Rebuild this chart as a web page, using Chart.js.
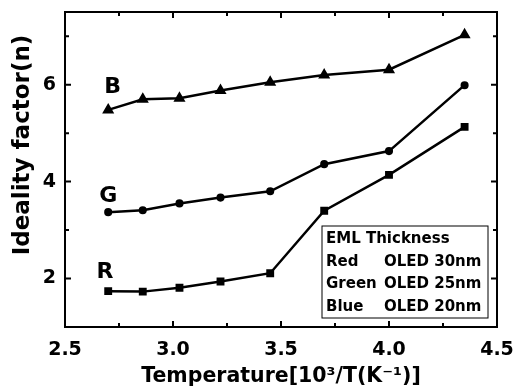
<!DOCTYPE html>
<html>
<head>
<meta charset="utf-8">
<script src="https://cdn.jsdelivr.net/npm/chart.js@4.4.1/dist/chart.umd.min.js"></script>
<style>
  html, body { margin: 0; padding: 0; background: #fff; }
  #wrap { width: 513px; height: 392px; }
</style>
</head>
<body>
<div id="wrap"><canvas id="myChart" width="513" height="392"></canvas></div>
<script>
// inverse temperature, 10^3/T
const invT = [2.70, 2.86, 3.03, 3.22, 3.45, 3.70, 4.00, 4.35];
const blueN = [5.48, 5.70, 5.72, 5.88, 6.05, 6.20, 6.31, 7.03];
const greenN = [3.37, 3.41, 3.55, 3.67, 3.80, 4.36, 4.63, 5.99];
const redN = [1.74, 1.73, 1.81, 1.94, 2.11, 3.40, 4.14, 5.13];

const xTicks = [2.5, 3.0, 3.5, 4.0, 4.5];
const yTicks = [2, 4, 6];
const xMinor = [2.75, 3.25, 3.75, 4.25];
const yMinor = [3, 5, 7];

// curve labels placed in data coords
const curveLabels = [
  { text: 'B', x: 2.72, y: 5.94 },
  { text: 'G', x: 2.70, y: 3.70 },
  { text: 'R', x: 2.685, y: 2.13 }
];

const legendTitle = 'EML Thickness';
const legendNames = ['Red', 'Green', 'Blue'];
const legendValues = ['OLED 30nm', 'OLED 25nm', 'OLED 20nm'];

const FONT = '"DejaVu Sans", Verdana, sans-serif';

function pts(ys) {
  return invT.map((x, i) => ({ x: x, y: ys[i] }));
}

const frame = {
  id: 'frame',
  afterDraw(chart) {
    const c = chart.ctx;
    const a = chart.chartArea;
    const xs = chart.scales.x, ys = chart.scales.y;
    c.save();
    c.strokeStyle = '#000';
    c.lineWidth = 2;
    c.strokeRect(a.left, a.top, a.right - a.left, a.bottom - a.top);

    // inward ticks on all four sides
    c.beginPath();
    xTicks.concat(xMinor).forEach(v => {
      const p = xs.getPixelForValue(v);
      const len = xMinor.includes(v) ? 4 : 6;
      c.moveTo(p, a.bottom); c.lineTo(p, a.bottom - len);
      c.moveTo(p, a.top); c.lineTo(p, a.top + len);
    });
    yTicks.concat(yMinor).forEach(v => {
      const p = ys.getPixelForValue(v);
      const len = yMinor.includes(v) ? 4 : 6;
      c.moveTo(a.left, p); c.lineTo(a.left + len, p);
      c.moveTo(a.right, p); c.lineTo(a.right - len, p);
    });
    c.stroke();

    // curve labels
    c.fillStyle = '#000';
    c.font = 'bold 22px ' + FONT;
    c.textAlign = 'center';
    c.textBaseline = 'middle';
    curveLabels.forEach(l => {
      c.fillText(l.text, xs.getPixelForValue(l.x), ys.getPixelForValue(l.y));
    });

    // y title
    c.save();
    c.translate(23, 145);
    c.rotate(-Math.PI / 2);
    c.font = 'bold 23px ' + FONT;
    c.fillText('Ideality factor(n)', 0, 0);
    c.restore();

    // legend box
    const bx = a.right - 175, by = a.bottom - 101, bw = 166, bh = 92;
    c.lineWidth = 1;
    c.strokeRect(bx, by, bw, bh);
    c.font = 'bold 15px ' + FONT;
    c.textAlign = 'left';
    c.fillText(legendTitle, bx + 4, by + 13);
    legendNames.forEach((n, i) => {
      const ty = by + 36 + i * 22.6;
      c.fillText(n, bx + 4, ty);
      c.fillText(legendValues[i], bx + 62, ty);
    });
    c.restore();
  }
};

const ctx = document.getElementById('myChart').getContext('2d');
const lineStyle = { borderColor: '#000', backgroundColor: '#000', borderWidth: 2.5, showLine: true, tension: 0 };

const myChart = new Chart(ctx, {
  type: 'scatter',
  data: {
    datasets: [
      Object.assign({ label: 'B', data: pts(blueN), pointStyle: 'triangle', pointRadius: 4.5 }, lineStyle),
      Object.assign({ label: 'G', data: pts(greenN), pointStyle: 'circle', pointRadius: 2.8 }, lineStyle),
      Object.assign({ label: 'R', data: pts(redN), pointStyle: 'rect', pointRadius: 3.8 }, lineStyle)
    ]
  },
  options: {
    responsive: false,
    animation: false,
    layout: { padding: { top: 12, right: 16, left: 0, bottom: 0 } },
    plugins: { legend: { display: false }, tooltip: { enabled: false } },
    scales: {
      x: {
        type: 'linear',
        min: 2.5,
        max: 4.5,
        grid: { display: false },
        border: { display: false },
        afterBuildTicks: s => { s.ticks = xTicks.map(v => ({ value: v })); },
        afterFit: s => { s.height = 65; s.paddingLeft = 0; s.paddingRight = 0; },
        ticks: {
          color: '#000',
          padding: 4,
          font: { family: FONT, size: 19, weight: 'bold' },
          callback: v => v.toFixed(1)
        },
        title: {
          display: true,
          text: 'Temperature[10³/T(K⁻¹)]',
          color: '#000',
          padding: { top: 0, bottom: 3 },
          font: { family: FONT, size: 20.5, weight: 'bold' }
        }
      },
      y: {
        type: 'linear',
        min: 1,
        max: 7.5,
        grid: { display: false },
        border: { display: false },
        afterBuildTicks: s => { s.ticks = yTicks.map(v => ({ value: v })); },
        afterFit: s => { s.width = 65; s.paddingTop = 0; s.paddingBottom = 0; },
        ticks: {
          color: '#000',
          padding: 1,
          font: { family: FONT, size: 19, weight: 'bold' }
        }
      }
    }
  },
  plugins: [frame]
});
</script>
</body>
</html>
